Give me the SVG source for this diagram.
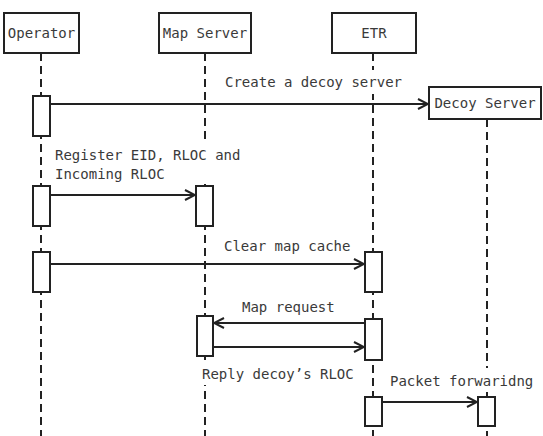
<svg xmlns="http://www.w3.org/2000/svg" width="543" height="436" viewBox="0 0 543 436">
<defs>
<marker id="arr" markerWidth="12" markerHeight="12" viewBox="0 0 12 12" refX="11" refY="6" orient="auto" markerUnits="userSpaceOnUse">
<path d="M1,1 L11,6 L1,11" fill="none" stroke="#222" stroke-width="2"/>
</marker>
</defs>
<style>
.box{fill:#fff;stroke:#222;stroke-width:2}
.act{fill:#fff;stroke:#222;stroke-width:2}
.life{stroke:#222;stroke-width:2;stroke-dasharray:8 5;fill:none}
.msg{stroke:#222;stroke-width:2;fill:none;marker-end:url(#arr)}
.bg{fill:#fff}
text{font-family:"DejaVu Sans Mono","Liberation Mono",monospace;font-size:14px;fill:#3a3a3a}
</style>
<rect width="543" height="436" fill="#fff"/>
<g id="lifelines">
<line class="life" x1="41" y1="53" x2="41" y2="436"/>
<line class="life" x1="205" y1="53" x2="205" y2="436"/>
<line class="life" x1="373" y1="53" x2="373" y2="436"/>
<line class="life" x1="487" y1="119" x2="487" y2="436"/>
</g>
<g id="operator">
<rect class="box" x="4" y="13" width="75" height="40"/>
<text x="41.5" y="38" text-anchor="middle">Operator</text>
</g>
<g id="map-server">
<rect class="box" x="159" y="13" width="92" height="40"/>
<text x="205" y="38" text-anchor="middle">Map Server</text>
</g>
<g id="etr">
<rect class="box" x="332" y="13" width="84" height="40"/>
<text x="374" y="38" text-anchor="middle">ETR</text>
</g>
<g id="decoy-server">
<rect class="box" x="429" y="87" width="112" height="32"/>
<text x="485" y="108" text-anchor="middle">Decoy Server</text>
</g>
<g id="activations">
<rect class="act" x="33" y="96" width="17" height="40"/>
<rect class="act" x="33" y="186" width="17" height="40"/>
<rect class="act" x="196" y="186" width="17" height="40"/>
<rect class="act" x="33" y="252" width="17" height="40"/>
<rect class="act" x="365" y="252" width="17" height="40"/>
<rect class="act" x="197" y="316" width="16" height="40"/>
<rect class="act" x="365" y="319" width="17" height="41"/>
<rect class="act" x="365" y="397" width="17" height="29"/>
<rect class="act" x="478" y="397" width="17" height="29"/>
</g>
<g id="connectors">
<line class="msg" x1="50" y1="104" x2="428" y2="104"/>
<line class="msg" x1="50" y1="195" x2="195" y2="195"/>
<line class="msg" x1="50" y1="264" x2="364" y2="264"/>
<line class="msg" x1="365" y1="323" x2="214" y2="323"/>
<line class="msg" x1="213" y1="347" x2="364" y2="347"/>
<line class="msg" x1="382" y1="402" x2="477" y2="402"/>
</g>
<g id="labels">
<rect class="bg" x="222" y="70" width="184" height="24"/>
<text x="225" y="87">Create a decoy server</text>
<rect class="bg" x="52" y="144" width="192" height="40"/>
<text x="55" y="160">Register EID, RLOC and</text>
<text x="55" y="179">Incoming RLOC</text>
<rect class="bg" x="221" y="235" width="132" height="22"/>
<text x="224" y="251">Clear map cache</text>
<rect class="bg" x="239" y="296" width="98" height="21"/>
<text x="242" y="312">Map request</text>
<rect class="bg" x="199" y="363" width="158" height="22"/>
<text x="202" y="379">Reply decoy’s RLOC</text>
<rect class="bg" x="387" y="368" width="150" height="24"/>
<text x="390" y="386">Packet forwaridng</text>
</g>
</svg>
